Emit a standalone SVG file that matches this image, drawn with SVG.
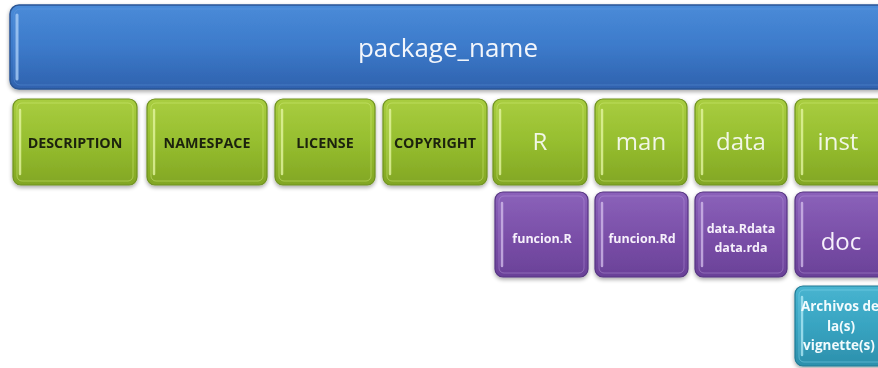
<svg xmlns="http://www.w3.org/2000/svg" width="878" height="368" viewBox="0 0 878 368">
<style>
  .t { font-family: "Open Sans", "Liberation Sans", sans-serif; text-anchor: middle; }
  .big { font-size: 24px; fill: #f1f6e6; }
  .cap { font-size: 14.3px; font-weight: bold; fill: #1d2410; }
  .sm { font-size: 12.5px; font-weight: bold; fill: #f6f0fb; }
  .tl { font-size: 13.5px; font-weight: bold; fill: #f2fbfd; }
  .hl { fill: none; stroke-linecap: round; }
</style>
<defs>
  <filter id="sh" x="-10%" y="-10%" width="120%" height="130%">
    <feGaussianBlur in="SourceAlpha" stdDeviation="2"/>
    <feOffset dx="0" dy="2" result="b"/>
    <feComponentTransfer><feFuncA type="linear" slope="0.35"/></feComponentTransfer>
    <feMerge><feMergeNode/><feMergeNode in="SourceGraphic"/></feMerge>
  </filter>
  <linearGradient id="gBlue" x1="0" y1="0" x2="0" y2="1">
    <stop offset="0" stop-color="#4a8bd8"/>
    <stop offset="0.5" stop-color="#3c7aca"/>
    <stop offset="1" stop-color="#2f62ae"/>
  </linearGradient>
  <linearGradient id="gGreen" x1="0" y1="0" x2="0" y2="1">
    <stop offset="0" stop-color="#a9cd40"/>
    <stop offset="0.5" stop-color="#96be2f"/>
    <stop offset="1" stop-color="#82a624"/>
  </linearGradient>
  <linearGradient id="gPurple" x1="0" y1="0" x2="0" y2="1">
    <stop offset="0" stop-color="#8b62ba"/>
    <stop offset="0.5" stop-color="#7b50a9"/>
    <stop offset="1" stop-color="#6a4198"/>
  </linearGradient>
  <linearGradient id="gTeal" x1="0" y1="0" x2="0" y2="1">
    <stop offset="0" stop-color="#48b4d0"/>
    <stop offset="0.5" stop-color="#38a4c1"/>
    <stop offset="1" stop-color="#2c90ac"/>
  </linearGradient>
</defs>

<g id="package_name" filter="url(#sh)">
  <rect x="10" y="5" width="880" height="84" rx="9" fill="url(#gBlue)" stroke="#2a5696" stroke-width="1.5"/>
  <rect x="14" y="9" width="872" height="76" rx="6" fill="none" stroke="#6fa4e6" stroke-opacity="0.35"/>
  <path class="hl" d="M17 15 V79" stroke="#a9cdf6" stroke-width="3" stroke-opacity="0.8"/>
  <text class="t" x="448" y="57" style="font-size:26px;fill:#f2f6fb">package_name</text>
</g>

<g id="DESCRIPTION" filter="url(#sh)">
  <rect x="13" y="99" width="124" height="86" rx="8" fill="url(#gGreen)" stroke="#6f9220" stroke-width="1.2"/>
  <rect x="17" y="103" width="116" height="78" rx="5" fill="none" stroke="#d2ec7a" stroke-opacity="0.5"/>
  <path class="hl" d="M20 110 V174" stroke="#e4f5a0" stroke-width="2.5" stroke-opacity="0.8"/>
  <text class="t cap" x="75" y="148">DESCRIPTION</text>
</g>

<g id="NAMESPACE" filter="url(#sh)">
  <rect x="147" y="99" width="120" height="86" rx="8" fill="url(#gGreen)" stroke="#6f9220" stroke-width="1.2"/>
  <rect x="151" y="103" width="112" height="78" rx="5" fill="none" stroke="#d2ec7a" stroke-opacity="0.5"/>
  <path class="hl" d="M154 110 V174" stroke="#e4f5a0" stroke-width="2.5" stroke-opacity="0.8"/>
  <text class="t cap" x="207" y="148">NAMESPACE</text>
</g>

<g id="LICENSE" filter="url(#sh)">
  <rect x="275" y="99" width="100" height="86" rx="8" fill="url(#gGreen)" stroke="#6f9220" stroke-width="1.2"/>
  <rect x="279" y="103" width="92" height="78" rx="5" fill="none" stroke="#d2ec7a" stroke-opacity="0.5"/>
  <path class="hl" d="M282 110 V174" stroke="#e4f5a0" stroke-width="2.5" stroke-opacity="0.8"/>
  <text class="t cap" x="325" y="148">LICENSE</text>
</g>

<g id="COPYRIGHT" filter="url(#sh)">
  <rect x="383" y="99" width="104" height="86" rx="8" fill="url(#gGreen)" stroke="#6f9220" stroke-width="1.2"/>
  <rect x="387" y="103" width="96" height="78" rx="5" fill="none" stroke="#d2ec7a" stroke-opacity="0.5"/>
  <path class="hl" d="M390 110 V174" stroke="#e4f5a0" stroke-width="2.5" stroke-opacity="0.8"/>
  <text class="t cap" x="435" y="148">COPYRIGHT</text>
</g>

<g id="R" filter="url(#sh)">
  <rect x="493" y="99" width="94" height="86" rx="8" fill="url(#gGreen)" stroke="#6f9220" stroke-width="1.2"/>
  <rect x="497" y="103" width="86" height="78" rx="5" fill="none" stroke="#d2ec7a" stroke-opacity="0.5"/>
  <path class="hl" d="M500 110 V174" stroke="#e4f5a0" stroke-width="2.5" stroke-opacity="0.8"/>
  <text class="t big" x="540" y="150">R</text>
</g>

<g id="man" filter="url(#sh)">
  <rect x="595" y="99" width="92" height="86" rx="8" fill="url(#gGreen)" stroke="#6f9220" stroke-width="1.2"/>
  <rect x="599" y="103" width="84" height="78" rx="5" fill="none" stroke="#d2ec7a" stroke-opacity="0.5"/>
  <path class="hl" d="M602 110 V174" stroke="#e4f5a0" stroke-width="2.5" stroke-opacity="0.8"/>
  <text class="t big" x="641" y="150">man</text>
</g>

<g id="data" filter="url(#sh)">
  <rect x="695" y="99" width="92" height="86" rx="8" fill="url(#gGreen)" stroke="#6f9220" stroke-width="1.2"/>
  <rect x="699" y="103" width="84" height="78" rx="5" fill="none" stroke="#d2ec7a" stroke-opacity="0.5"/>
  <path class="hl" d="M702 110 V174" stroke="#e4f5a0" stroke-width="2.5" stroke-opacity="0.8"/>
  <text class="t big" x="741" y="150">data</text>
</g>

<g id="inst" filter="url(#sh)">
  <rect x="795" y="99" width="92" height="86" rx="8" fill="url(#gGreen)" stroke="#6f9220" stroke-width="1.2"/>
  <rect x="799" y="103" width="84" height="78" rx="5" fill="none" stroke="#d2ec7a" stroke-opacity="0.5"/>
  <path class="hl" d="M802 110 V174" stroke="#e4f5a0" stroke-width="2.5" stroke-opacity="0.8"/>
  <text class="t big" x="838" y="150">inst</text>
</g>

<g id="funcion_R" filter="url(#sh)">
  <rect x="495" y="192" width="93" height="85" rx="8" fill="url(#gPurple)" stroke="#553482" stroke-width="1.2"/>
  <rect x="499" y="196" width="85" height="77" rx="5" fill="none" stroke="#b898da" stroke-opacity="0.45"/>
  <path class="hl" d="M502 203 V266" stroke="#d6c0ee" stroke-width="2.5" stroke-opacity="0.75"/>
  <text class="t sm" x="542" y="243">funcion.R</text>
</g>

<g id="funcion_Rd" filter="url(#sh)">
  <rect x="595" y="192" width="93" height="85" rx="8" fill="url(#gPurple)" stroke="#553482" stroke-width="1.2"/>
  <rect x="599" y="196" width="85" height="77" rx="5" fill="none" stroke="#b898da" stroke-opacity="0.45"/>
  <path class="hl" d="M602 203 V266" stroke="#d6c0ee" stroke-width="2.5" stroke-opacity="0.75"/>
  <text class="t sm" x="642" y="243">funcion.Rd</text>
</g>

<g id="data_files" filter="url(#sh)">
  <rect x="695" y="192" width="92" height="85" rx="8" fill="url(#gPurple)" stroke="#553482" stroke-width="1.2"/>
  <rect x="699" y="196" width="84" height="77" rx="5" fill="none" stroke="#b898da" stroke-opacity="0.45"/>
  <path class="hl" d="M702 203 V266" stroke="#d6c0ee" stroke-width="2.5" stroke-opacity="0.75"/>
  <text class="t sm" x="741" y="233">data.Rdata</text>
  <text class="t sm" x="741" y="252">data.rda</text>
</g>

<g id="doc" filter="url(#sh)">
  <rect x="795" y="192" width="92" height="85" rx="8" fill="url(#gPurple)" stroke="#553482" stroke-width="1.2"/>
  <rect x="799" y="196" width="84" height="77" rx="5" fill="none" stroke="#b898da" stroke-opacity="0.45"/>
  <path class="hl" d="M802 203 V266" stroke="#d6c0ee" stroke-width="2.5" stroke-opacity="0.75"/>
  <text class="t big" x="841" y="250" style="fill:#f6f0fb">doc</text>
</g>

<g id="vignettes" filter="url(#sh)">
  <rect x="795" y="286" width="92" height="80" rx="8" fill="url(#gTeal)" stroke="#217a94" stroke-width="1.2"/>
  <rect x="799" y="290" width="84" height="72" rx="5" fill="none" stroke="#8fdcf0" stroke-opacity="0.45"/>
  <path class="hl" d="M802 297 V355" stroke="#b5ecf8" stroke-width="2.5" stroke-opacity="0.75"/>
  <text class="t tl" x="840" y="311">Archivos de</text>
  <text class="t tl" x="841" y="331">la(s)</text>
  <text class="t tl" x="839" y="350">vignette(s)</text>
</g>

<g id="connectors"></g>
</svg>
